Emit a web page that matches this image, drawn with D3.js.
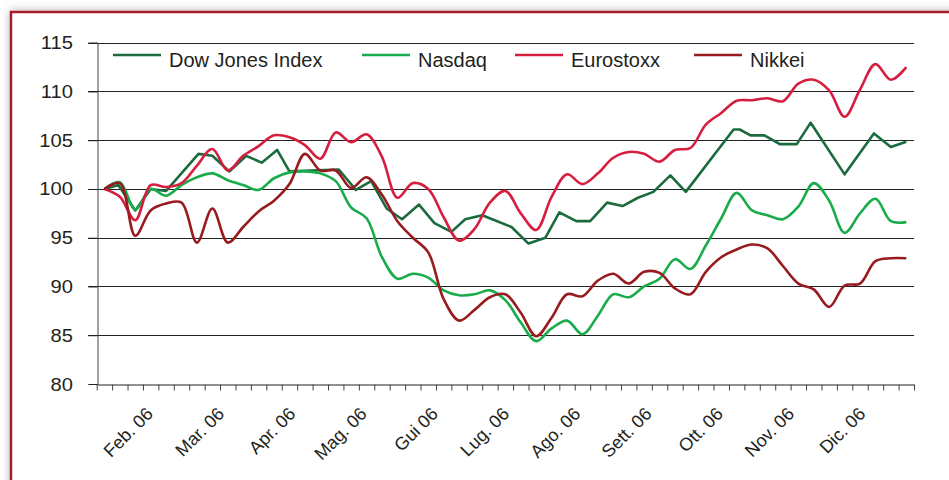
<!DOCTYPE html>
<meta charset="utf-8">
<style>
  body { margin: 0; background: #fff; overflow: hidden; }
  text { font-family: "Liberation Sans", Arial, sans-serif; fill: #231f20; }
</style>
<body></body>
<script src="https://d3js.org/d3.v7.min.js"></script>
<script>

var width = 949,
    height = 480;

// tick labels
var months = ["Feb. 06", "Mar. 06", "Apr. 06", "Mag. 06", "Gui 06", "Lug. 06",
              "Ago. 06", "Sett. 06", "Ott. 06", "Nov. 06", "Dic. 06"];
var yTicks = [80, 85, 90, 95, 100, 105, 110, 115];

// weekly values (week 0 .. 52)
var nasdaq = [100.0, 100.7, 97.9, 100.0, 99.3, 100.4, 101.2, 101.6, 100.9, 100.4,
              99.9, 101.1, 101.7, 101.8, 101.6, 100.8, 98.1, 97.0, 93.0, 90.8,
              91.3, 90.9, 89.6, 89.1, 89.2, 89.6, 88.6, 86.3, 84.4, 85.7,
              86.5, 85.1, 87.0, 89.2, 88.9, 90.0, 90.8, 92.8, 91.8, 94.2,
              97.0, 99.6, 97.8, 97.3, 96.9, 98.2, 100.6, 98.8, 95.5, 97.5,
              99.0, 96.7, 96.6];
var eurostoxx = [100.0, 99.2, 96.8, 100.4, 100.2, 100.6, 102.4, 104.1, 101.9, 103.4,
                 104.4, 105.5, 105.3, 104.5, 103.1, 105.8, 104.8, 105.6, 103.3, 99.1,
                 100.6, 100.0, 97.1, 94.7, 95.9, 98.6, 99.8, 97.5, 95.8, 99.2,
                 101.5, 100.5, 101.6, 103.2, 103.8, 103.6, 102.8, 104.0, 104.2, 106.6,
                 107.8, 109.05, 109.1, 109.3, 109.0, 110.8, 111.2, 110.1, 107.4, 110.2,
                 112.8, 111.2, 112.5];
var nikkei = [100.0, 100.6, 95.2, 97.8, 98.5, 98.6, 94.5, 98.0, 94.5, 96.1,
              97.7, 98.8, 100.5, 103.6, 101.9, 101.9, 100.1, 101.2, 99.4, 96.7,
              95.0, 93.5, 88.7, 86.5, 87.6, 88.9, 89.2, 87.3, 84.9, 86.8,
              89.2, 89.0, 90.6, 91.3, 90.3, 91.5, 91.4, 89.8, 89.2, 91.5,
              93.0, 93.8, 94.3, 93.9, 92.1, 90.3, 89.7, 87.9, 90.1, 90.3,
              92.6, 92.9, 92.9];

// Dow Jones is drawn straight, its turning points fall between weeks
var dowWeeks = [0, 0.9, 2, 3, 4, 6.1, 7, 8.1, 9.2, 10.2, 11.2, 12, 15.2, 16.3, 17.3,
                18.3, 19.3, 20.4, 21.4, 22.5, 23.4, 24.5, 26.4, 27.5, 28.6, 29.5,
                30.6, 31.5, 32.6, 33.6, 34.6, 35.6, 36.7, 37.7, 40.8, 41.2, 41.9,
                42.8, 43.8, 44.9, 45.8, 48.0, 49.9, 51.0, 52.0];
var dowValues = [100.0, 100.4, 97.8, 100.0, 99.8, 103.6, 103.4, 101.8, 103.4, 102.7, 104.0,
                 101.8, 102.0, 99.9, 100.8, 98.0, 96.9, 98.4, 96.5, 95.6, 96.9, 97.3,
                 96.1, 94.4, 95.0, 97.6, 96.7, 96.7, 98.6, 98.25, 99.1, 99.7, 101.4,
                 99.7, 106.1, 106.1, 105.5, 105.5, 104.6, 104.6, 106.8, 101.5, 105.7,
                 104.3, 104.85];

var series = [
  {name: "Dow Jones Index", color: "#1b6b3f", pts: dowWeeks.map(function(w, i) { return [w, dowValues[i]]; }), smooth: false},
  {name: "Nasdaq", color: "#1aab4b", pts: nasdaq.map(function(v, i) { return [i, v]; }), smooth: true},
  {name: "Eurostoxx", color: "#d61f3f", pts: eurostoxx.map(function(v, i) { return [i, v]; }), smooth: true},
  {name: "Nikkei", color: "#981b1f", pts: nikkei.map(function(v, i) { return [i, v]; }), smooth: true}
];

var svg = d3.select("body").append("svg")
    .attr("width", width)
    .attr("height", height);

// frame with soft shadow
var defs = svg.append("defs");
var f = defs.append("filter").attr("id", "shadow")
    .attr("x", "-5%").attr("y", "-5%").attr("width", "110%").attr("height", "110%");
f.append("feDropShadow").attr("dx", 0).attr("dy", 0).attr("stdDeviation", 4)
    .attr("flood-color", "#000").attr("flood-opacity", 0.3);

svg.append("rect")
    .attr("x", 11).attr("y", 12)
    .attr("width", 1000).attr("height", 600)
    .attr("fill", "#fff")
    .attr("stroke", "#a51e2c")
    .attr("stroke-width", 2.5)
    .attr("filter", "url(#shadow)");

var x = d3.scaleLinear().domain([-0.5, 52.5]).range([96.7, 914]),
    y = d3.scaleLinear().domain([80, 115]).range([384, 42.7]);

// horizontal grid
svg.append("g").selectAll("line")
    .data(yTicks.slice(1))
  .enter().append("line")
    .attr("x1", 88).attr("x2", 914)
    .attr("y1", function(d) { return Math.round(y(d)) + 0.5; })
    .attr("y2", function(d) { return Math.round(y(d)) + 0.5; })
    .attr("stroke", "#222")
    .attr("stroke-width", 1);

// y axis
var yAxis = svg.append("g")
    .attr("transform", "translate(" + (Math.round(x(-0.5)) + 0.5) + ",0)")
    .call(d3.axisLeft(y).tickValues(yTicks).tickSize(9).tickPadding(0).tickFormat(""));
yAxis.select(".domain").attr("stroke", "#444");
yAxis.selectAll(".tick line").attr("stroke", "#222");

svg.append("g").selectAll("text")
    .data(yTicks)
  .enter().append("text")
    .attr("transform", function(d) { return "translate(73," + (y(d) + 6.5) + ") scale(1.12,1)"; })
    .attr("text-anchor", "end")
    .style("font-size", "18px")
    .text(function(d) { return d; });

// x axis, one tick per week
var xAxis = svg.append("g")
    .attr("transform", "translate(0," + (Math.round(y(80)) + 0.5) + ")")
    .call(d3.axisBottom(x).tickValues(d3.range(-0.5, 53, 1)).tickSize(6).tickSizeOuter(0).tickFormat(""));
xAxis.select(".domain").attr("stroke", "#222");
xAxis.selectAll(".tick line").attr("stroke", "#444");

// month labels
var labelStart = 3.22, labelStep = 4.62;
svg.append("g").selectAll("text")
    .data(months)
  .enter().append("text")
    .attr("transform", function(d, i) {
      return "translate(" + x(labelStart + i * labelStep) + "," + (y(80) + 31) + ") rotate(-45)";
    })
    .attr("text-anchor", "end")
    .style("font-size", "18px")
    .text(function(d) { return d; });

// lines
var smoothLine = d3.line()
    .x(function(d) { return x(d[0]); })
    .y(function(d) { return y(d[1]); })
    .curve(d3.curveCatmullRom.alpha(0.5));
var straightLine = d3.line()
    .x(function(d) { return x(d[0]); })
    .y(function(d) { return y(d[1]); });

svg.append("g").selectAll("path")
    .data(series)
  .enter().append("path")
    .attr("fill", "none")
    .attr("stroke", function(d) { return d.color; })
    .attr("stroke-width", 2.6)
    .attr("stroke-linejoin", "round")
    .attr("d", function(d) { return d.smooth ? smoothLine(d.pts) : straightLine(d.pts); });

// legend
var legendX = [113, 362, 515, 694];
var legend = svg.append("g").selectAll("g")
    .data(series)
  .enter().append("g")
    .attr("transform", function(d, i) { return "translate(" + legendX[i] + ",55)"; });
legend.append("line")
    .attr("x1", 0).attr("x2", 48)
    .attr("stroke", function(d) { return d.color; })
    .attr("stroke-width", 2.6);
legend.append("text")
    .attr("x", 56).attr("y", 12)
    .style("font-size", "20px")
    .text(function(d) { return d.name; });

</script>
